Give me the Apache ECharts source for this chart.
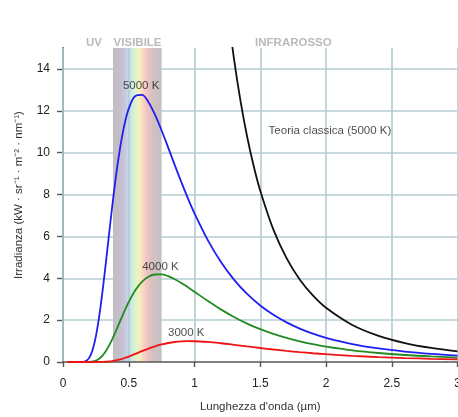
<!DOCTYPE html>
<html>
<head>
<meta charset="utf-8">
<script src="https://cdn.jsdelivr.net/npm/echarts@6/dist/echarts.min.js"></script>
<style>
  html, body { margin: 0; padding: 0; background: #ffffff; }
  #chart { width: 458px; height: 417px; }
</style>
</head>
<body>
<div id="chart"></div>
<script>
// Wavelengths (µm) shared by the three black-body curves
const wavelengths = [0.03, 0.1, 0.125, 0.15, 0.175, 0.2, 0.225, 0.25, 0.275, 0.3, 0.325, 0.35, 0.375, 0.4, 0.425, 0.45, 0.475, 0.5, 0.55, 0.6, 0.65, 0.7, 0.75, 0.8, 0.85, 0.9, 0.95, 1.0, 1.1, 1.2, 1.3, 1.4, 1.5, 1.6, 1.7, 1.8, 1.9, 2.0, 2.2, 2.4, 2.6, 2.8, 3.0];

// Spectral irradiance, kW · sr⁻¹ · m⁻² · nm⁻¹
const irr5000 = [0, 0, 0.0004, 0.0073, 0.052, 0.210, 0.577, 1.223, 2.162, 3.346, 4.692, 6.096, 7.471, 8.742, 9.861, 10.799, 11.547, 12.105, 12.712, 12.760, 12.414, 11.806, 11.060, 10.242, 9.408, 8.595, 7.821, 7.101, 5.832, 4.786, 3.937, 3.251, 2.700, 2.253, 1.892, 1.597, 1.356, 1.157, 0.856, 0.646, 0.495, 0.386, 0.305];
const irr4000 = [0, 0, 0, 0.0001, 0.0009, 0.0058, 0.0236, 0.0688, 0.158, 0.304, 0.513, 0.781, 1.097, 1.446, 1.813, 2.180, 2.535, 2.865, 3.423, 3.825, 4.072, 4.181, 4.182, 4.099, 3.956, 3.776, 3.571, 3.356, 2.922, 2.514, 2.152, 1.836, 1.568, 1.341, 1.150, 0.989, 0.853, 0.738, 0.560, 0.430, 0.335, 0.265, 0.212];
const irr3000 = [0, 0, 0, 0, 0, 0, 0, 0.0006, 0.0020, 0.0056, 0.0128, 0.0254, 0.0448, 0.0722, 0.1079, 0.1518, 0.2030, 0.2602, 0.3865, 0.5174, 0.6415, 0.7505, 0.8398, 0.9078, 0.9547, 0.9829, 0.9944, 0.9923, 0.9572, 0.8960, 0.8222, 0.7443, 0.6683, 0.5967, 0.5310, 0.4718, 0.4190, 0.3722, 0.2945, 0.2346, 0.1882, 0.1523, 0.1242];

// Classical (Rayleigh–Jeans) prediction at 5000 K
const classicWavelengths = [1.25, 1.3, 1.35, 1.4, 1.45, 1.5, 1.6, 1.7, 1.8, 1.9, 2.0, 2.2, 2.4, 2.6, 2.8, 3.0];
const classic5000 = [16.95, 14.49, 12.46, 10.77, 9.36, 8.18, 6.32, 4.96, 3.94, 3.18, 2.59, 1.77, 1.25, 0.906, 0.673, 0.511];

// Visible band limits (µm)
const visibleRange = [0.38, 0.75];

// Axis ticks
const xTicks = [0, 0.5, 1, 1.5, 2, 2.5, 3];
const yTicks = [0, 2, 4, 6, 8, 10, 12, 14];

// Curve captions and region names
const curveLabels = [
  { name: '5000 K', value: [0.594, 13.19] },
  { name: '4000 K', value: [0.741, 4.54] },
  { name: '3000 K', value: [0.937, 1.39] },
  { name: 'Teoria classica (5000 K)', value: [2.03, 11.05] }
];
const regionLabels = [
  { name: 'UV', value: [0.236, 15.24] },
  { name: 'VISIBILE', value: [0.567, 15.24] },
  { name: 'INFRAROSSO', value: [1.752, 15.24] }
];

const pairs = (xs, ys) => xs.map((x, i) => [x, ys[i]]);

const FONT = '"Liberation Sans", Arial, sans-serif';
const GRID_COLOR = '#b5cbd4';
const AXIS_COLOR = '#555555';

const chart = echarts.init(document.getElementById('chart'), null, { renderer: 'canvas' });

const curve = (name, xs, ys, color) => ({
  name: name,
  type: 'line',
  data: pairs(xs, ys),
  smooth: 0.35,
  showSymbol: false,
  symbol: 'none',
  clip: true,
  z: 3,
  lineStyle: { color: color, width: 1.8 }
});

chart.setOption({
  animation: false,
  backgroundColor: '#ffffff',
  grid: { left: 63, right: 0.5, top: 48, bottom: 55, containLabel: false, outerBoundsMode: 'none' },
  xAxis: {
    type: 'value',
    min: 0,
    max: 3,
    interval: 0.5,
    z: 2,
    name: "Lunghezza d'onda (µm)",
    nameLocation: 'middle',
    nameGap: 39,
    nameTextStyle: { fontFamily: FONT, fontSize: 11.5, color: '#333333' },
    axisLine: { show: true, onZero: false, lineStyle: { color: AXIS_COLOR, width: 1.6 } },
    axisTick: { show: true, length: 5, inside: false, lineStyle: { color: AXIS_COLOR, width: 1.4 }, customValues: xTicks },
    axisLabel: {
      fontFamily: FONT, fontSize: 12, color: '#222222', margin: 16,
      customValues: xTicks,
      hideOverlap: false,
      formatter: v => String(v)
    },
    splitLine: { show: true, lineStyle: { color: GRID_COLOR, width: 1.6 } }
  },
  yAxis: {
    type: 'value',
    min: 0,
    max: 15,
    interval: 1,
    z: 0,
    name: 'Irradianza (kW · sr⁻¹ · m⁻² · nm⁻¹)',
    nameLocation: 'middle',
    nameGap: 38,
    nameRotate: 90,
    nameTextStyle: { fontFamily: FONT, fontSize: 11.5, color: '#333333', padding: [0, 0, 0, 20] },
    axisLine: { show: true, onZero: false, lineStyle: { color: AXIS_COLOR, width: 1.8 } },
    axisTick: { show: true, length: 6, lineStyle: { color: AXIS_COLOR, width: 1.4 }, customValues: yTicks },
    axisLabel: {
      fontFamily: FONT, fontSize: 12, color: '#222222', margin: 13,
      customValues: yTicks
    },
    splitLine: { show: false }
  },
  series: [
    {
      // Horizontal reference lines, kept under the visible band
      name: 'griglia',
      type: 'line',
      data: [],
      z: 0,
      markLine: {
        silent: true,
        symbol: ['none', 'none'],
        z: 0,
        label: { show: false },
        lineStyle: { color: GRID_COLOR, width: 1.6, type: 'solid' },
        data: yTicks.filter(v => v > 0).map(v => ({ yAxis: v }))
      }
    },
    {
      name: 'visibile',
      type: 'line',
      data: [],
      z: 1,
      markArea: {
        silent: true,
        z: 1,
        itemStyle: {
          opacity: 1,
          color: new echarts.graphic.LinearGradient(0, 0, 1, 0, [
            { offset: 0.00, color: '#c2bec2' },
            { offset: 0.14, color: '#c3bec9' },
            { offset: 0.24, color: '#c9c6dc' },
            { offset: 0.32, color: '#c4dbe6' },
            { offset: 0.40, color: '#cdeee0' },
            { offset: 0.48, color: '#e4f4c6' },
            { offset: 0.55, color: '#f6eebc' },
            { offset: 0.62, color: '#f8d6c2' },
            { offset: 0.70, color: '#f2c3c3' },
            { offset: 0.80, color: '#d6c1c1' },
            { offset: 1.00, color: '#c4c0c0' }
          ])
        },
        data: [[{ xAxis: visibleRange[0], yAxis: 0 }, { xAxis: visibleRange[1], yAxis: 15 }]]
      }
    },
    curve('5000 K', wavelengths, irr5000, '#1f1ff2'),
    curve('4000 K', wavelengths, irr4000, '#238a23'),
    curve('3000 K', wavelengths, irr3000, '#ee1414'),
    curve('Teoria classica (5000 K)', classicWavelengths, classic5000, '#111111'),
    {
      name: 'etichette',
      type: 'scatter',
      data: curveLabels,
      symbolSize: 0,
      silent: true,
      z: 4,
      label: {
        show: true,
        position: 'inside',
        formatter: p => p.name,
        fontFamily: FONT,
        fontSize: 11.5,
        color: '#222222'
      }
    },
    {
      name: 'regioni',
      type: 'scatter',
      data: regionLabels,
      symbolSize: 0,
      silent: true,
      clip: false,
      z: 4,
      label: {
        show: true,
        position: 'inside',
        formatter: p => p.name,
        fontFamily: FONT,
        fontSize: 11.5,
        fontWeight: 'bold',
        color: '#a8a8a8'
      }
    }
  ]
});
</script>
</body>
</html>
